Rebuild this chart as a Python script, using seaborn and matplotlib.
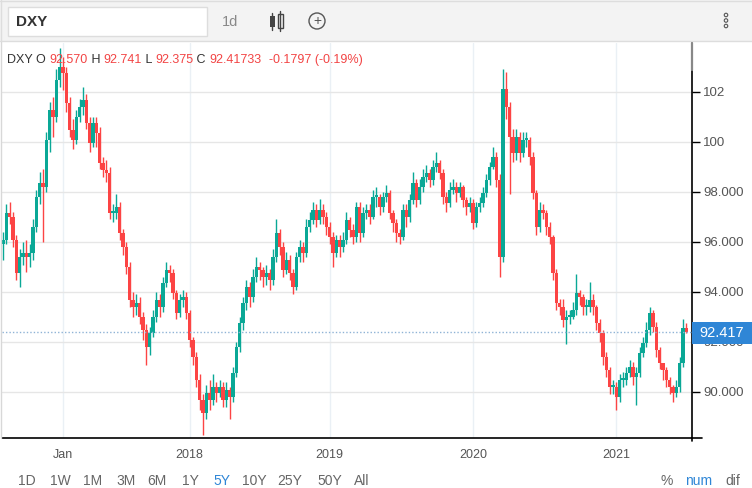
import numpy as np
import matplotlib.pyplot as plt
import matplotlib.patches as mpatches
import seaborn as sns

# DXY candles, oldest first
first_open = 95.9
close = [96.08, 97.16, 97.00, 96.08, 94.76, 95.40, 95.56, 95.40, 95.56, 96.60,
         97.80, 98.36, 98.20, 100.08, 101.28, 101.00, 102.48, 103.00, 102.76, 101.56,
         100.48, 100.08, 101.00, 101.40, 101.68, 100.76, 99.96, 100.76, 100.36, 99.16,
         98.88, 98.76, 97.16, 97.16, 97.40, 96.36, 95.80, 95.00, 93.68, 93.40,
         93.56, 93.00, 92.48, 91.80, 92.36, 93.00, 93.68, 93.40, 94.36, 94.88,
         94.76, 93.96, 93.16, 93.68, 93.80, 93.16, 92.08, 91.40, 90.48, 89.68,
         89.16, 89.96, 89.68, 90.20, 89.96, 90.20, 89.68, 90.08, 89.80, 90.76,
         91.80, 92.76, 93.56, 94.20, 93.80, 94.60, 95.00, 94.88, 94.60, 94.76,
         94.48, 95.40, 96.36, 95.80, 94.88, 95.28, 94.76, 94.20, 95.40, 95.80,
         95.56, 96.60, 96.88, 97.28, 96.88, 97.28, 97.00, 96.60, 96.20, 95.56,
         96.08, 95.80, 96.08, 96.88, 96.48, 96.20, 97.40, 96.36, 97.16, 97.28,
         97.00, 97.80, 97.80, 97.40, 97.80, 97.96, 97.16, 96.76, 96.36, 96.20,
         97.28, 97.00, 97.68, 98.36, 97.68, 98.20, 98.60, 98.76, 98.48, 99.00,
         99.16, 98.76, 97.80, 97.56, 98.08, 98.20, 97.96, 98.20, 97.68, 97.40,
         97.56, 96.76, 97.40, 97.56, 97.96, 98.48, 99.00, 99.40, 98.48, 95.40,
         102.10, 101.40, 100.20, 99.56, 100.20, 99.56, 100.08, 100.08, 99.40, 97.96,
         96.60, 97.28, 97.16, 96.60, 96.20, 94.76, 93.56, 93.40, 92.88, 93.00,
         93.00, 93.28, 93.96, 93.80, 93.40, 93.40, 93.68, 93.40, 92.76, 92.36,
         91.40, 90.88, 90.20, 90.20, 89.80, 90.48, 90.48, 90.76, 91.00, 90.60,
         90.76, 91.56, 91.96, 92.48, 93.16, 92.60, 91.68, 91.16, 90.88, 90.48,
         90.20, 89.96, 90.20, 91.16, 92.57, 92.417]
high = [96.4, 97.5, 97.6, 97.2, 96.3, 95.7, 96.0, 96.1, 95.9, 96.9,
        98.1, 98.8, 98.9, 100.4, 101.6, 101.8, 102.9, 103.76, 103.4, 103.0,
        101.8, 100.9, 101.3, 101.7, 102.2, 101.9, 101.0, 101.0, 101.0, 100.6,
        99.4, 99.3, 99.0, 97.5, 97.9, 97.6, 96.5, 96.0, 95.2, 94.0,
        93.9, 93.8, 93.2, 92.7, 92.6, 93.3, 94.0, 93.9, 94.6, 95.2,
        95.1, 94.9, 94.1, 93.9, 94.1, 94.0, 93.3, 92.2, 91.6, 90.7,
        89.9, 90.3, 90.5, 90.7, 90.4, 90.5, 90.4, 90.4, 90.2, 91.0,
        92.0, 93.0, 93.8, 94.5, 94.4, 94.9, 95.4, 95.2, 95.0, 95.1,
        94.9, 95.7, 96.9, 96.5, 96.0, 95.6, 95.5, 94.9, 95.6, 96.1,
        96.0, 96.9, 97.2, 97.6, 97.5, 97.7, 97.5, 97.2, 96.8, 96.4,
        96.3, 96.3, 96.4, 97.2, 97.0, 96.7, 97.6, 97.6, 97.4, 97.5,
        97.5, 98.1, 98.2, 97.9, 98.0, 98.3, 98.1, 97.3, 96.9, 96.5,
        97.5, 97.5, 97.9, 98.8, 98.5, 98.5, 98.9, 99.1, 98.9, 99.3,
        99.6, 99.3, 98.9, 98.0, 98.4, 98.5, 98.4, 98.4, 98.3, 97.8,
        97.8, 97.7, 97.6, 97.8, 98.2, 98.7, 99.2, 99.8, 99.6, 98.7,
        102.9, 102.8, 101.6, 100.5, 100.5, 100.4, 100.4, 100.4, 100.2, 99.6,
        98.1, 97.6, 97.5, 97.3, 96.8, 96.3, 94.9, 93.7, 93.7, 93.3,
        93.3, 93.6, 94.7, 94.1, 93.9, 93.7, 94.4, 93.9, 93.5, 92.9,
        92.5, 91.6, 91.0, 90.5, 90.4, 90.7, 90.8, 91.0, 91.3, 91.2,
        91.0, 91.8, 92.2, 92.8, 93.4, 93.3, 92.8, 91.8, 91.1, 91.0,
        90.6, 90.3, 90.5, 91.4, 92.9, 92.741]
low = [95.3, 95.9, 96.7, 95.8, 94.5, 94.2, 95.1, 94.8, 95.0, 95.3,
       96.4, 97.5, 96.0, 98.0, 99.6, 100.2, 100.8, 102.2, 102.1, 101.2,
       100.2, 99.7, 99.9, 100.8, 101.1, 100.5, 99.6, 99.8, 99.8, 98.9,
       98.6, 98.4, 96.9, 96.8, 96.9, 96.1, 95.5, 94.7, 93.4, 93.0,
       93.1, 92.7, 92.1, 91.1, 91.5, 92.2, 92.8, 93.0, 93.2, 94.2,
       94.4, 93.7, 92.9, 93.0, 93.4, 92.9, 91.8, 91.1, 90.2, 89.3,
       88.3, 88.9, 89.3, 89.5, 89.6, 89.8, 89.4, 89.4, 88.9, 89.6,
       90.6, 91.6, 92.5, 93.3, 93.4, 93.6, 94.4, 94.5, 94.2, 94.3,
       94.1, 94.3, 95.2, 95.5, 94.6, 94.7, 94.5, 93.9, 94.1, 95.2,
       95.2, 95.4, 96.4, 96.7, 96.6, 96.7, 96.7, 96.3, 95.9, 95.0,
       95.4, 95.4, 95.6, 95.9, 96.2, 95.9, 96.0, 96.0, 96.2, 96.9,
       96.7, 96.9, 97.4, 97.1, 97.2, 97.6, 96.9, 96.4, 96.0, 95.9,
       96.1, 96.6, 96.8, 97.5, 97.4, 97.5, 98.0, 98.4, 98.2, 98.3,
       98.8, 98.5, 97.5, 97.2, 97.4, 97.9, 97.6, 97.8, 97.4, 97.1,
       97.2, 96.5, 96.6, 97.2, 97.4, 97.8, 98.3, 98.9, 98.2, 94.6,
       95.2, 100.9, 97.9, 99.2, 99.3, 99.2, 99.4, 99.8, 99.1, 97.7,
       96.3, 96.4, 96.9, 96.3, 95.9, 94.5, 93.3, 93.1, 92.6, 91.9,
       92.7, 92.9, 93.1, 93.5, 93.1, 93.1, 93.2, 93.1, 92.5, 92.0,
       91.1, 90.6, 89.9, 89.9, 89.3, 89.6, 90.2, 90.3, 90.6, 90.3,
       89.5, 90.6, 91.4, 91.8, 92.3, 92.4, 91.4, 90.9, 90.5, 90.2,
       89.9, 89.6, 89.8, 90.0, 91.0, 92.375]

y_ticks = [90, 92, 94, 96, 98, 100, 102]
y_labels = ["90.000", "92.000", "94.000", "96.000", "98.000", "100", "102"]
x_labels = ["Jan", "2018", "2019", "2020", "2021"]
x_tick_bars = [18, 56, 98, 141, 184]   # candle index where each label sits
last_price = 92.417
ohlc_text = [("DXY O ", False), ("92.570", True), (" H ", False), ("92.741", True),
             (" L ", False), ("92.375", True), (" C ", False), ("92.41733", True),
             ("  -0.1797 (-0.19%)", True)]
ranges = ["1D", "1W", "1M", "3M", "6M", "1Y", "5Y", "10Y", "25Y", "50Y", "All"]
modes = ["%", "num", "dif"]

up_col = "#0aa896"
dn_col = "#fc4444"
blue = "#2f86d6"
txt_col = "#555555"

sns.set_style("white")
plt.rcParams['font.family'] = ['Liberation Sans', 'DejaVu Sans']

W, H = 752, 488
def fx(x):
    return x / W
def fy(y):
    return 1 - y / H

fig = plt.figure(figsize=(7.52, 4.88), dpi=100)
ax = fig.add_axes([fx(2), fy(438), fx(690), 395 / H])

op = np.array([first_open] + close[:-1])
cl = np.array(close)
hi = np.array(high)
lo = np.array(low)
idx = np.arange(len(cl))
is_up = cl >= op
cols = np.where(is_up, up_col, dn_col)

ax.vlines(idx, lo, hi, colors=cols, linewidth=1.0, zorder=3)
body_lo = np.minimum(op, cl)
body_h = np.maximum(np.abs(cl - op), 0.08)
ax.bar(idx, body_h, bottom=body_lo, width=0.92, color=cols, linewidth=0, zorder=4)

ax.axhline(last_price, color="#8fb3d6", linestyle=(0, (1, 1.5)), linewidth=1.0, zorder=5)

ax.set_xlim(-0.3, 206.7)
ax.set_ylim(88.16, 103.96)
ax.yaxis.tick_right()
ax.set_yticks(y_ticks, labels=y_labels)
ax.set_xticks(x_tick_bars, labels=x_labels)
ax.tick_params(axis='y', direction='out', length=6, width=1, color='black',
               labelsize=9.5, labelcolor=txt_col, pad=2)
ax.tick_params(axis='x', length=0, labelsize=9, labelcolor=txt_col, pad=8)
ax.grid(axis='y', color='#e6e6e6', linewidth=1)
ax.grid(axis='x', color='#eaf0f5', linewidth=1)
ax.set_axisbelow(True)
for s in ['top', 'left']:
    ax.spines[s].set_visible(False)
for s in ['right', 'bottom']:
    ax.spines[s].set_color('black')
    ax.spines[s].set_linewidth(1.2)

# extend axis lines past the corner, as in the widget
fig.add_artist(plt.Line2D([fx(692), fx(702)], [fy(438), fy(438)], color='black', lw=1.2))
fig.add_artist(plt.Line2D([fx(692), fx(692)], [fy(438), fy(441)], color='black', lw=1.2))
fig.add_artist(plt.Line2D([fx(692), fx(692)], [fy(43), fy(70)], color='#888888', lw=1.6))
# left border
fig.add_artist(plt.Line2D([fx(1.5), fx(1.5)], [fy(41), fy(438)], color='#d8d8d8', lw=1))

# last price tag
fig.add_artist(mpatches.Rectangle((fx(692), fy(344)), fx(60), 22 / H, color=blue, lw=0))
fig.text(fx(722), fy(333), f"{last_price:.3f}", color='white', fontsize=10.5,
         ha='center', va='center')

# OHLC header line
last_txt = None
for s, red in ohlc_text:
    c = '#f24444' if red else '#333333'
    if last_txt is None:
        last_txt = fig.text(fx(7), fy(60), s, color=c, fontsize=9, va='center', ha='left')
    else:
        last_txt = ax.annotate(s, xy=(1, 0), xycoords=last_txt, va='bottom', ha='left',
                               color=c, fontsize=9, annotation_clip=False)

# toolbar
fig.add_artist(mpatches.Rectangle((0, fy(41)), 1, 41 / H, color='#f3f3f3', lw=0))
fig.add_artist(plt.Line2D([0, 1], [fy(41), fy(41)], color='#dddddd', lw=1))
fig.add_artist(plt.Line2D([0, 1], [fy(1), fy(1)], color='#dddddd', lw=1))
fig.add_artist(plt.Line2D([fx(1), fx(1)], [fy(0), fy(41)], color='#dddddd', lw=1))
fig.add_artist(mpatches.Rectangle((fx(8), fy(36)), fx(199), 29 / H, facecolor='white',
                                  edgecolor='#dddddd', lw=1))
fig.text(fx(16), fy(21.5), "DXY", fontsize=11, fontweight='bold', color='#333333', va='center')
fig.text(fx(222), fy(21.5), "1d", fontsize=10.5, color='#888888', va='center')
# candle icon
fig.add_artist(plt.Line2D([fx(272), fx(272)], [fy(13), fy(30)], color='#444444', lw=1))
fig.add_artist(mpatches.Rectangle((fx(269.5), fy(27)), fx(5), 11 / H, color='#444444', lw=0))
fig.add_artist(plt.Line2D([fx(280), fx(280)], [fy(11), fy(31)], color='#444444', lw=1))
fig.add_artist(mpatches.Rectangle((fx(277.5), fy(28)), fx(5), 14 / H, facecolor='#f3f3f3',
                                  edgecolor='#444444', lw=1))
# plus in circle
fig.add_artist(mpatches.Ellipse((fx(317), fy(21)), 16 / W, 16 / H, facecolor='none',
                                edgecolor='#555555', lw=1))
fig.text(fx(317), fy(21.5), "+", fontsize=10, color='#555555', ha='center', va='center')
# menu dots
for yy in [15, 20.5, 26]:
    fig.add_artist(mpatches.Ellipse((fx(726), fy(yy)), 3.5 / W, 3.5 / H, facecolor='none',
                                    edgecolor='#555555', lw=0.8))

# range buttons
range_x = [27, 60, 93, 126, 157, 190, 222, 254, 290, 330, 362]
for lab, xx in zip(ranges, range_x):
    fig.text(fx(xx), fy(481), lab, fontsize=10, color=blue if lab == "5Y" else '#666666',
             ha='center', va='center')
for lab, xx in zip(modes, [667, 699, 733]):
    fig.text(fx(xx), fy(481), lab, fontsize=10, color=blue if lab == "num" else '#666666',
             ha='center', va='center')

fig.savefig("out.png", dpi=100, facecolor='white')
